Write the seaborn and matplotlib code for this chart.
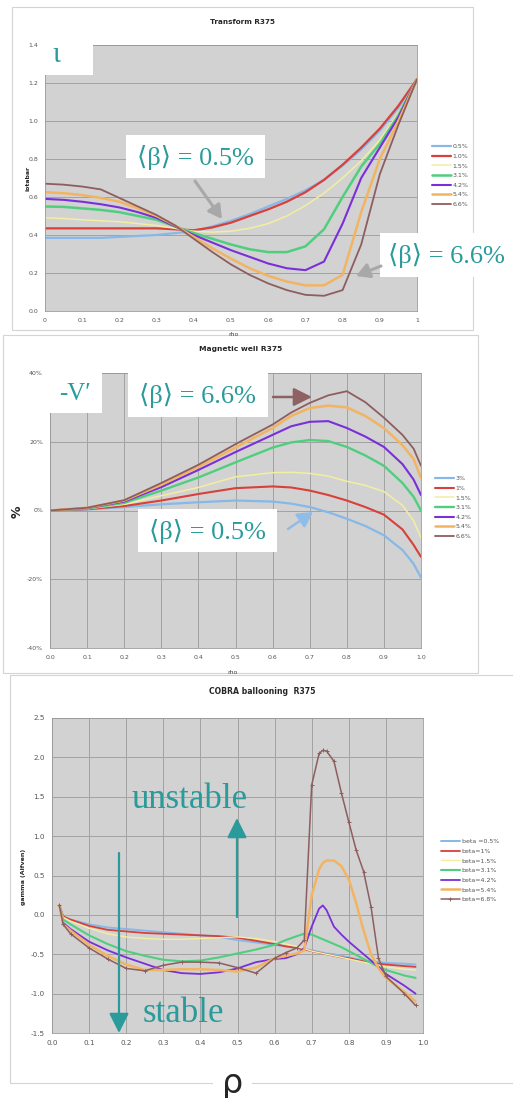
import numpy as np
import pandas as pd
import matplotlib
matplotlib.use("Agg")
import matplotlib.pyplot as plt
import seaborn as sns
from matplotlib.patches import Rectangle, FancyArrowPatch

# ---------------- data ----------------
colors = ["#86b8e8", "#d8403a", "#f3eea0", "#4fcf7e", "#7a2fd8", "#f2b462", "#8e5e5e"]

# Transform R375 (iotabar vs rho)
top_x = [0, 0.05, 0.1, 0.15, 0.2, 0.25, 0.3, 0.35, 0.4, 0.45, 0.5, 0.55, 0.6,
         0.65, 0.7, 0.75, 0.8, 0.85, 0.9, 0.95, 1.0]
top_labels = ["0.5%", "1.0%", "1.5%", "3.1%", "4.2%", "5.4%", "6.6%"]
top_b05 = [0.385, 0.385, 0.385, 0.385, 0.39, 0.395, 0.40, 0.41, 0.42, 0.445, 0.475,
           0.51, 0.55, 0.59, 0.635, 0.69, 0.765, 0.85, 0.95, 1.07, 1.22]
top_b10 = [0.435, 0.435, 0.435, 0.435, 0.435, 0.435, 0.435, 0.43, 0.425, 0.44, 0.465,
           0.50, 0.535, 0.575, 0.625, 0.69, 0.77, 0.86, 0.96, 1.08, 1.22]
top_b15 = [0.49, 0.487, 0.48, 0.475, 0.47, 0.46, 0.45, 0.435, 0.42, 0.415, 0.42,
           0.435, 0.46, 0.50, 0.555, 0.62, 0.70, 0.79, 0.90, 1.04, 1.22]
top_b31 = [0.55, 0.548, 0.54, 0.532, 0.52, 0.50, 0.48, 0.445, 0.41, 0.38, 0.35,
           0.325, 0.31, 0.31, 0.34, 0.43, 0.60, 0.76, 0.88, 1.03, 1.22]
top_b42 = [0.59, 0.585, 0.575, 0.562, 0.545, 0.52, 0.49, 0.445, 0.40, 0.36, 0.32,
           0.285, 0.25, 0.225, 0.215, 0.26, 0.46, 0.70, 0.86, 1.02, 1.22]
top_b54 = [0.625, 0.62, 0.61, 0.595, 0.575, 0.54, 0.50, 0.45, 0.39, 0.33, 0.275,
           0.225, 0.185, 0.155, 0.135, 0.135, 0.19, 0.52, 0.80, 1.00, 1.22]
top_b66 = [0.67, 0.665, 0.655, 0.64, 0.595, 0.55, 0.505, 0.45, 0.38, 0.31, 0.245,
           0.19, 0.145, 0.11, 0.085, 0.08, 0.11, 0.35, 0.72, 0.98, 1.22]

# Magnetic well R375 (%)
mid_x = [0, 0.1, 0.2, 0.3, 0.4, 0.5, 0.6, 0.65, 0.7, 0.75, 0.8, 0.85, 0.9, 0.95, 0.98, 1.0]
mid_labels = ["3%", "1%", "1.5%", "3.1%", "4.2%", "5.4%", "6.6%"]
mid_b05 = [0, 0.3, 1.0, 1.8, 2.4, 2.9, 2.6, 2.0, 1.0, -0.5, -2.4, -4.5, -7.2, -11.5, -15.5, -19.5]
mid_b10 = [0, 0.4, 1.3, 2.9, 4.8, 6.5, 7.0, 6.7, 5.8, 4.5, 2.9, 1.0, -1.2, -5.5, -10, -13.5]
mid_b15 = [0, 0.5, 1.8, 4.3, 6.7, 9.8, 11.0, 11.1, 10.8, 10.0, 8.5, 7.3, 5.5, 1.5, -3, -8]
mid_b31 = [0, 0.6, 2.2, 5.8, 9.6, 14.0, 18.3, 19.8, 20.5, 20.2, 18.5, 16, 13, 8, 4, 0]
mid_b42 = [0, 0.7, 2.6, 6.8, 11.8, 17.0, 22.0, 24.5, 25.8, 26, 24, 21.5, 18.5, 13.5, 9, 4.5]
mid_b54 = [0, 0.8, 2.9, 7.5, 12.7, 18.3, 24.0, 27.5, 29.8, 30.5, 30, 27.5, 24, 19, 15, 9.5]
mid_b66 = [0, 0.8, 3.0, 8.0, 13.3, 19.3, 25.0, 28.5, 31.3, 33.5, 34.7, 31.5, 27, 22, 18, 13]

# COBRA ballooning R375 (gamma)
bot_x = [0.02, 0.03, 0.05, 0.10, 0.15, 0.20, 0.25, 0.30, 0.35, 0.40, 0.45, 0.50, 0.55,
         0.60, 0.63, 0.66, 0.68, 0.70, 0.72, 0.73, 0.74, 0.76, 0.78, 0.80, 0.82, 0.84,
         0.86, 0.88, 0.90, 0.95, 0.98]
bot_labels = ["beta =0.5%", "beta=1%", "beta=1.5%", "beta=3.1%", "beta=4.2%", "beta=5.4%", "beta=6.8%"]
bot_b05 = [0.12, -0.02, -0.06, -0.12, -0.16, -0.18, -0.20, -0.22, -0.24, -0.26, -0.28, -0.32, -0.35,
           -0.38, -0.40, -0.42, -0.43, -0.45, -0.47, -0.48, -0.49, -0.50, -0.52, -0.54, -0.56, -0.58,
           -0.59, -0.60, -0.61, -0.62, -0.63]
bot_b10 = [0.12, -0.02, -0.06, -0.14, -0.19, -0.21, -0.23, -0.24, -0.25, -0.26, -0.27, -0.29, -0.33,
           -0.37, -0.40, -0.42, -0.44, -0.46, -0.48, -0.49, -0.50, -0.52, -0.54, -0.55, -0.57, -0.59,
           -0.61, -0.62, -0.63, -0.65, -0.66]
bot_b15 = [0.12, -0.03, -0.08, -0.17, -0.24, -0.28, -0.30, -0.31, -0.31, -0.30, -0.29, -0.28, -0.30,
           -0.34, -0.37, -0.40, -0.43, -0.46, -0.48, -0.49, -0.50, -0.52, -0.54, -0.56, -0.58, -0.60,
           -0.62, -0.64, -0.66, -0.69, -0.70]
bot_b31 = [0.12, -0.06, -0.12, -0.26, -0.37, -0.46, -0.52, -0.57, -0.59, -0.58, -0.54, -0.49, -0.44,
           -0.38, -0.32, -0.27, -0.24, -0.25, -0.29, -0.31, -0.33, -0.37, -0.41, -0.46, -0.51, -0.56,
           -0.61, -0.66, -0.70, -0.77, -0.80]
bot_b42 = [0.12, -0.10, -0.18, -0.34, -0.45, -0.54, -0.62, -0.70, -0.74, -0.75, -0.73, -0.68, -0.60,
           -0.56, -0.55, -0.50, -0.42, -0.15, 0.08, 0.12, 0.06, -0.15, -0.25, -0.34, -0.42, -0.50,
           -0.58, -0.66, -0.75, -0.90, -1.00]
bot_b54 = [0.12, -0.12, -0.20, -0.38, -0.52, -0.63, -0.70, -0.70, -0.69, -0.69, -0.70, -0.72, -0.67,
           -0.55, -0.52, -0.49, -0.45, 0.25, 0.58, 0.66, 0.69, 0.69, 0.62, 0.45, 0.15, -0.20,
           -0.50, -0.68, -0.80, -0.98, -1.10]
bot_b68 = [0.12, -0.12, -0.24, -0.42, -0.56, -0.68, -0.71, -0.64, -0.60, -0.60, -0.61, -0.67, -0.74,
           -0.55, -0.48, -0.42, -0.32, 1.65, 2.05, 2.09, 2.08, 1.95, 1.55, 1.18, 0.82, 0.55,
           0.10, -0.55, -0.78, -1.00, -1.15]

top_ticks_x = [0, 0.1, 0.2, 0.3, 0.4, 0.5, 0.6, 0.7, 0.8, 0.9, 1.0]
top_ticklabels_x = ["0", "0.1", "0.2", "0.3", "0.4", "0.5", "0.6", "0.7", "0.8", "0.9", "1"]
mid_ticks_y = [-40, -20, 0, 20, 40]
mid_ticklabels_y = ["-40%", "-20%", "0%", "20%", "40%"]

# ---------------- figure ----------------
sns.set_style("white")
plt.rcParams["font.family"] = ["DejaVu Sans"]
W, H = 513, 1098
fig = plt.figure(figsize=(W / 100, H / 100), dpi=100)
fig.patch.set_facecolor("white")
TEAL = "#2a9a9a"
SERIF = ["Liberation Serif", "DejaVu Serif"]


def fx(x):
    return x / W


def fy(y):
    return 1 - y / H


def make_axes(l, t, r, b):
    return fig.add_axes([fx(l), fy(b), (r - l) / W, (b - t) / H])


def frame(l, t, r, b):
    fig.add_artist(Rectangle((fx(l), fy(b)), (r - l) / W, (b - t) / H, transform=fig.transFigure,
                             facecolor="white", edgecolor="#d4d4d4", lw=0.8, zorder=-5))


def box(l, t, r, b):
    fig.add_artist(Rectangle((fx(l), fy(b)), (r - l) / W, (b - t) / H, transform=fig.transFigure,
                             facecolor="white", edgecolor="none", zorder=5))


def teal_text(x, y, s, size):
    fig.text(fx(x), fy(y), s, fontsize=size, color=TEAL, family=SERIF, ha="center", va="center", zorder=6)


def arrow(x0, y0, x1, y1, color, lw, hl, hw):
    fig.add_artist(FancyArrowPatch((fx(x0), fy(y0)), (fx(x1), fy(y1)), transform=fig.transFigure,
                                   arrowstyle=f"-|>,head_length={hl},head_width={hw}",
                                   mutation_scale=10, color=color, lw=lw, shrinkA=0, shrinkB=0, zorder=7))


def draw(ax, x, series, labels, widths):
    rows = []
    for lab, vals in zip(labels, series):
        for xv, yv in zip(x, vals):
            rows.append({"rho": xv, "val": yv, "series": lab})
    df = pd.DataFrame(rows)
    sns.lineplot(data=df, x="rho", y="val", hue="series", hue_order=labels,
                 palette=dict(zip(labels, colors)), estimator=None, sort=False,
                 legend=False, ax=ax)
    for ln, w in zip(ax.lines, widths):
        ln.set_linewidth(w)
        ln.set_solid_capstyle("round")
    ax.set_xlabel("")
    ax.set_ylabel("")


def style(ax):
    ax.set_facecolor("#d2d2d2")
    for s in ax.spines.values():
        s.set_color("#9a9a9a")
        s.set_linewidth(0.6)
    ax.tick_params(labelsize=4.5, length=2, width=0.5, colors="#888888", labelcolor="#555555", pad=3)


def legend(ax, labels, x, y):
    fig.legend(ax.lines[:len(labels)], labels, loc="upper left", bbox_to_anchor=(fx(x), fy(y)),
               frameon=False, prop={"size": 4.5}, handlelength=3.0, handletextpad=0.3,
               labelspacing=0.68, borderpad=0, borderaxespad=0, labelcolor="#555555")


frame(12, 7, 473, 330)
frame(3, 335, 478, 673)
frame(10, 675, 520, 1083)

# ---------- top panel ----------
ax1 = make_axes(45, 45, 417, 311)
style(ax1)
draw(ax1, top_x, [top_b05, top_b10, top_b15, top_b31, top_b42, top_b54, top_b66], top_labels,
     [1.6, 1.6, 1.1, 1.8, 1.5, 1.8, 1.3])
ax1.set_xlim(0, 1)
ax1.set_ylim(0, 1.4)
ax1.set_xticks(top_ticks_x)
ax1.set_xticklabels(top_ticklabels_x)
ax1.set_yticks(np.arange(0, 1.41, 0.2))
ax1.set_yticklabels([f"{v:.1f}" for v in np.arange(0, 1.41, 0.2)])
ax1.yaxis.grid(True, color="#a2a2a2", lw=0.7)
ax1.xaxis.grid(False)
ax1.set_axisbelow(True)
legend(ax1, top_labels, 432, 144)
fig.text(fx(242), fy(22), "Transform R375", fontsize=5.2, fontweight="bold", ha="center", va="center")
fig.text(fx(234), fy(334), "rho", fontsize=4.5, ha="center", va="center", color="#444444")
fig.text(fx(28), fy(178), "iotabar", fontsize=4.5, fontweight="bold", rotation=90, ha="center", va="center")

box(45, 45, 93, 75)
teal_text(56, 55, "ι", 21)
box(126, 135, 265, 178)
teal_text(195, 157, "⟨β⟩ = 0.5%", 19)
box(380, 233, 520, 277)
teal_text(446, 255, "⟨β⟩ = 6.6%", 19)
arrow(195, 181, 222, 219, "#a8a8a8", 2.2, 0.8, 0.45)
arrow(381, 266, 356, 276, "#a8a8a8", 2.2, 0.8, 0.45)

# ---------- middle panel ----------
ax2 = make_axes(50, 373, 421, 648)
style(ax2)
draw(ax2, mid_x, [mid_b05, mid_b10, mid_b15, mid_b31, mid_b42, mid_b54, mid_b66], mid_labels,
     [1.6, 1.5, 1.1, 1.7, 1.5, 1.8, 1.3])
ax2.set_xlim(0, 1)
ax2.set_ylim(-40, 40)
ax2.set_xticks(np.arange(0, 1.01, 0.1))
ax2.set_xticklabels([f"{v:.1f}" for v in np.arange(0, 1.01, 0.1)])
ax2.set_yticks(mid_ticks_y)
ax2.set_yticklabels(mid_ticklabels_y)
ax2.grid(True, color="#a2a2a2", lw=0.7)
ax2.set_axisbelow(True)
legend(ax2, mid_labels, 435, 476)
fig.text(fx(241), fy(349), "Magnetic well R375", fontsize=5.4, fontweight="bold", ha="center", va="center")
fig.text(fx(233), fy(672), "rho", fontsize=4.5, ha="center", va="center", color="#444444")
fig.text(fx(17), fy(512), "%", fontsize=9, fontweight="bold", rotation=90, ha="center", va="center")

box(50, 373, 102, 413)
teal_text(75, 394, "-V′", 18)
box(128, 373, 268, 417)
teal_text(197, 396, "⟨β⟩ = 6.6%", 19)
box(138, 509, 277, 552)
teal_text(207, 531, "⟨β⟩ = 0.5%", 19)
arrow(273, 397, 312, 397, "#8e6262", 1.8, 1.1, 0.55)
arrow(288, 529, 313, 512, "#8fbde8", 1.8, 0.9, 0.5)

# ---------- bottom panel ----------
ax3 = make_axes(52, 718, 423, 1033)
style(ax3)
draw(ax3, bot_x, [bot_b05, bot_b10, bot_b15, bot_b31, bot_b42, bot_b54, bot_b68], bot_labels,
     [1.4, 1.3, 1.0, 1.5, 1.3, 1.8, 1.1])
brown = ax3.lines[6]
brown.set_marker("+")
brown.set_markersize(3.5)
brown.set_markeredgewidth(0.7)
brown.set_markeredgecolor(colors[6])
brown.set_markerfacecolor(colors[6])
ax3.set_xlim(0, 1)
ax3.set_ylim(-1.5, 2.5)
ax3.set_xticks(np.arange(0, 1.01, 0.1))
ax3.set_xticklabels([f"{v:.1f}" for v in np.arange(0, 1.01, 0.1)])
ax3.set_yticks(np.arange(-1.5, 2.51, 0.5))
ax3.set_yticklabels([f"{v:.1f}" for v in np.arange(-1.5, 2.51, 0.5)])
ax3.tick_params(labelsize=5.2)
ax3.grid(True, color="#a2a2a2", lw=0.7)
ax3.set_axisbelow(True)
legend(ax3, bot_labels, 441, 839)
fig.text(fx(262), fy(692), "COBRA ballooning  R375", fontsize=5.6, fontweight="bold", ha="center", va="center")
fig.text(fx(23), fy(877), "gamma (Alfven)", fontsize=4.5, fontweight="bold", rotation=90, ha="center", va="center")

teal_text(190, 800, "unstable", 25)
teal_text(183, 1014, "stable", 25)
arrow(237, 917, 237, 818, TEAL, 1.6, 1.2, 0.6)
arrow(119, 853, 119, 1033, TEAL, 1.6, 1.2, 0.6)

box(213, 1070, 252, 1098)
fig.text(fx(233), fy(1083), "ρ", fontsize=24, family=["DejaVu Sans"], ha="center", va="center", zorder=6)

fig.savefig("out.png", dpi=100)
